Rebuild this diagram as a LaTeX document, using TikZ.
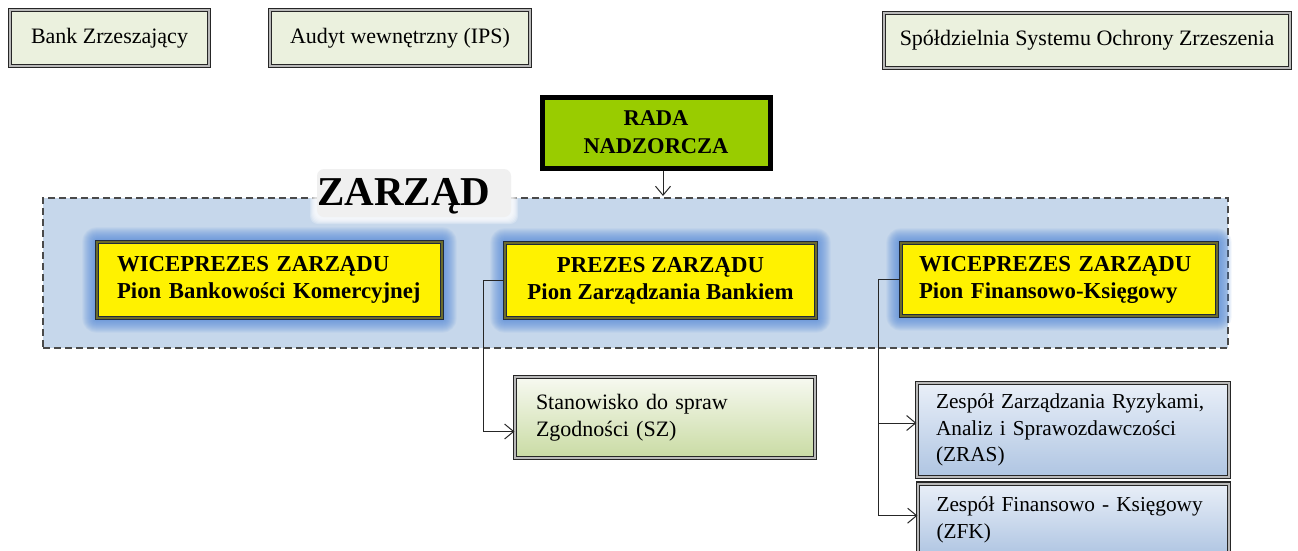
\documentclass[tikz,border=0pt]{standalone}
\usepackage{fontspec}
\setmainfont{Liberation Serif}
\usetikzlibrary{arrows.meta,calc}
\definecolor{topfill}{HTML}{EBF1DE}
\definecolor{radafill}{HTML}{99CC00}
\definecolor{contfill}{HTML}{C6D7EB}
\definecolor{contline}{HTML}{4A4A4A}
\definecolor{glowc}{HTML}{4F86D8}
\definecolor{yborder}{HTML}{1F2A3C}
\definecolor{ymid}{HTML}{6B6B2A}
\definecolor{greentop}{HTML}{F7F9F1}
\definecolor{greenbot}{HTML}{C9DBA3}
\definecolor{bluetop}{HTML}{E9EFF8}
\definecolor{bluebot}{HTML}{AFC5E2}
\pgfdeclarelayer{back}
\pgfdeclarelayer{glow}
\pgfsetlayers{back,glow,main}
\tikzset{
  txt/.style={font=\fontsize{22}{27}\selectfont, inner sep=0pt},
  topbox/.style={txt, draw=black!85, double=gray!55, double distance=2.2pt, line width=1.3pt, fill=topfill},
  yellowbox/.style={font=\bfseries\fontsize{22.8}{27}\selectfont, inner sep=0pt, draw=yborder, double=ymid, double distance=1.4pt, line width=1.2pt, fill=yellow},
  radabox/.style={font=\bfseries\fontsize{22.5}{28}\selectfont, inner sep=0pt, draw=black, line width=5pt, fill=radafill, align=center},
  greenbox/.style={txt, draw=black!85, double=gray!55, double distance=2.2pt, line width=1.3pt, top color=greentop, bottom color=greenbot},
  bluebox/.style={font=\fontsize{21.3}{26.5}\selectfont, inner sep=0pt, draw=black!85, double=gray!55, double distance=2.2pt, line width=1.3pt, top color=bluetop, bottom color=bluebot},
  arr/.style={draw=black!85, line width=1pt, -{Straight Barb[length=9pt,width=15pt,line width=1pt]}},
  conn/.style={draw=black!85, line width=1pt},
}
\begin{document}
\begin{tikzpicture}[x=1pt,y=-1pt]
\useasboundingbox (0,0) rectangle (1298,550);

% top boxes
\node[topbox, minimum width=199pt, minimum height=56pt] (bank) at (109.5,38) {Bank Zrzeszający};
\node[topbox, minimum width=260pt, minimum height=56pt] (audyt) at (400,38) {Audyt wewnętrzny (IPS)};
\node[topbox, minimum width=406pt, minimum height=55pt] (sos) at (1087,40.5) {Spółdzielnia Systemu Ochrony Zrzeszenia};

% Rada
\node[radabox, minimum width=228pt, minimum height=71pt] (rada) at (656,132.5) {RADA\\NADZORCZA};

% container
\begin{pgfonlayer}{back}
\node[draw=contline, dashed, dash pattern=on 7pt off 4pt, line width=1.6pt, fill=contfill, minimum width=1185pt, minimum height=150pt, inner sep=0pt] (cont) at (635.5,273) {};
\end{pgfonlayer}

% ZARZAD label
\begin{pgfonlayer}{glow}
\foreach \i in {1,...,6}{
  \fill[white, opacity=0.25, rounded corners=8pt] ($(316,168)+(-\i,-\i)$) rectangle ($(512,218)+(\i,\i)$);
}
\fill[gray!12, rounded corners=7pt] (317,169) rectangle (511,217);
\end{pgfonlayer}
\node[font=\bfseries\fontsize{41}{42}\selectfont, inner sep=0pt] (zarzadlbl) at (404,196) {ZARZĄD};

% yellow boxes
\node[yellowbox, minimum width=345pt, minimum height=76pt, text width=305pt, align=left] (wv1) at (269.5,280) {WICEPREZES ZARZĄDU\\Pion Bankowości Komercyjnej};
\node[yellowbox, minimum width=311pt, minimum height=75pt, align=center] (prezes) at (660.5,280.5) {PREZES ZARZĄDU\\Pion Zarządzania Bankiem};
\node[yellowbox, minimum width=316pt, minimum height=73pt, text width=280pt, align=left] (wv2) at (1059,279.5) {WICEPREZES ZARZĄDU\\Pion Finansowo-Księgowy};

\begin{pgfonlayer}{glow}
\foreach \n in {wv1,prezes,wv2}{
  \foreach \i in {2,...,14}{
    \fill[glowc, opacity=0.08, rounded corners=\i pt] ($(\n.south west)+(-\i,\i)$) rectangle ($(\n.north east)+(\i,-\i)$);
  }
}
\end{pgfonlayer}

% lower boxes
\node[greenbox, minimum width=300pt, minimum height=81pt, text width=258pt, align=left] (stan) at (665,417.5) {Stanowisko do spraw\\Zgodności (SZ)};
\node[bluebox, minimum width=312pt, minimum height=94pt, text width=274pt, align=left] (zras) at (1073,430) {Zespół Zarządzania Ryzykami,\\Analiz i Sprawozdawczości\\(ZRAS)};
\node[bluebox, anchor=north, minimum width=311pt, minimum height=72pt, text width=274pt, align=left] (zfk) at (1073.5,483) {Zespół Finansowo - Księgowy\\(ZFK)};

% connectors
\coordinate (ztop) at (663,196);
\draw[arr] (rada.south -| ztop) -- (ztop);
\draw[conn] (prezes.west) -- ++(-21,0) coordinate (pbus);
\draw[arr] (pbus) |- ($(stan.west)+(0,14)$);
\draw[conn] (wv2.west) -- ++(-22,0) coordinate (fbus);
\draw[arr] (fbus) |- ($(zras.west)+(0,-7)$);
\draw[arr] (fbus) |- ($(zfk.west)+(0,-4)$);
\end{tikzpicture}
\end{document}
